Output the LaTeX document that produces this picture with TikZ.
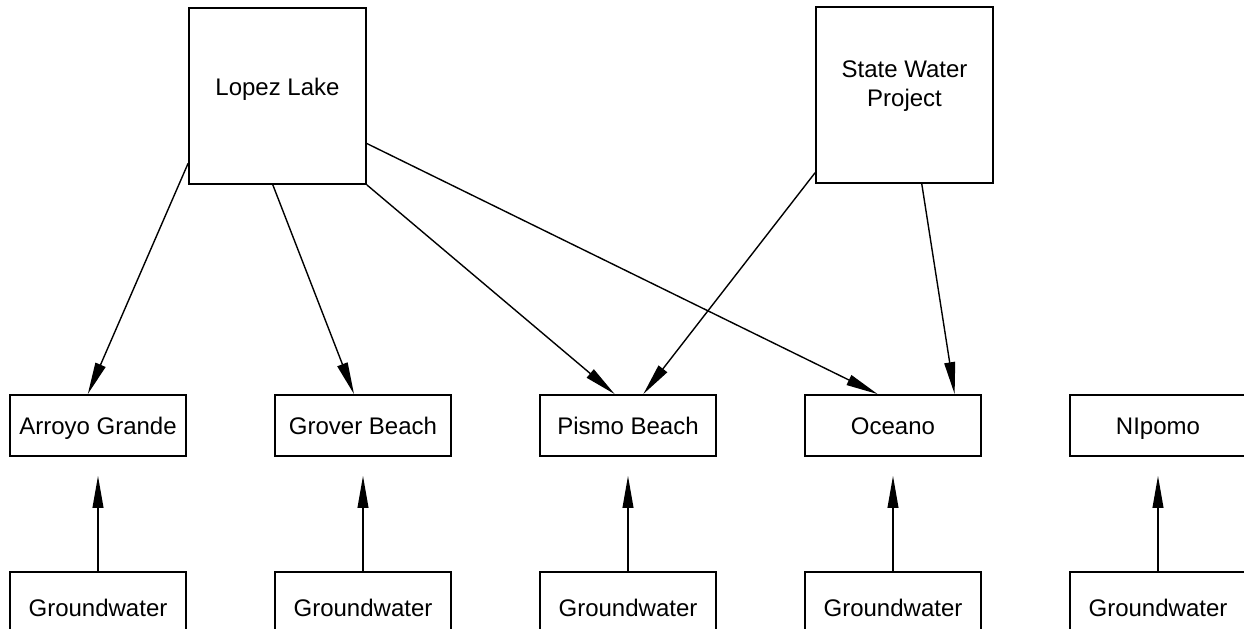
\documentclass[tikz,border=0pt]{standalone}
\usepackage{fontspec}
\setmainfont{Liberation Sans}
\usetikzlibrary{positioning, arrows.meta}

\begin{document}
\begin{tikzpicture}[
  x=0.5pt, y=-0.5pt,
  font=\fontsize{12}{14.5}\selectfont, node distance=43.6pt,
  source/.style={draw, line width=0.9pt, minimum width=88.5pt, minimum height=88pt, inner sep=0pt, align=center},
  town/.style={draw, line width=0.9pt, minimum width=88pt, minimum height=30.5pt, inner sep=0pt, text height=9pt, text depth=0.4pt},
  ground/.style={draw, line width=0.9pt, minimum width=88pt, minimum height=36pt, inner sep=0pt, text height=9pt, text depth=0.4pt},
  arr/.style={-{Triangle[length=16pt, width=5.4pt]}, line width=0.7pt},
]
  \useasboundingbox (0,0) rectangle (1244,628);
  % water sources
  \node[source, text height=9pt, text depth=9.4pt] (lopez) at (277.5,96) {Lopez Lake};
  \node[source, text height=23.2pt, text depth=11.7pt] (swp) at (904.5,95) {State Water\\Project};
  % towns
  \node[town] (arroyo) at (98,425.5) {Arroyo Grande};
  \node[town, right=of arroyo] (grover) {Grover Beach};
  \node[town, right=of grover] (pismo)  {Pismo Beach};
  \node[town, right=of pismo]  (oceano) {Oceano};
  \node[town, right=of oceano] (nipomo) {NIpomo};
  % groundwater under each town
  \foreach \t in {arroyo, grover, pismo, oceano, nipomo}
    \node[ground, below=57pt of \t] (gw-\t) {Groundwater};
  % Lopez Lake deliveries
  \draw[arr] (lopez.217) -- (arroyo.108);
  \draw[arr] (lopez.267) -- (grover.106);
  \draw[arr] (lopez.south east) -- (pismo.113);
  \draw[arr] (lopez.332.5) -- (oceano.116);
  % State Water Project deliveries
  \draw[arr] (swp.221) -- (pismo.64);
  \draw[arr] (swp.281) -- (oceano.27);
  % groundwater arrows
  \foreach \t in {arroyo, grover, pismo, oceano, nipomo}
    \draw[arr, shorten >=9.5pt] (gw-\t) -- (\t);
\end{tikzpicture}
\end{document}
